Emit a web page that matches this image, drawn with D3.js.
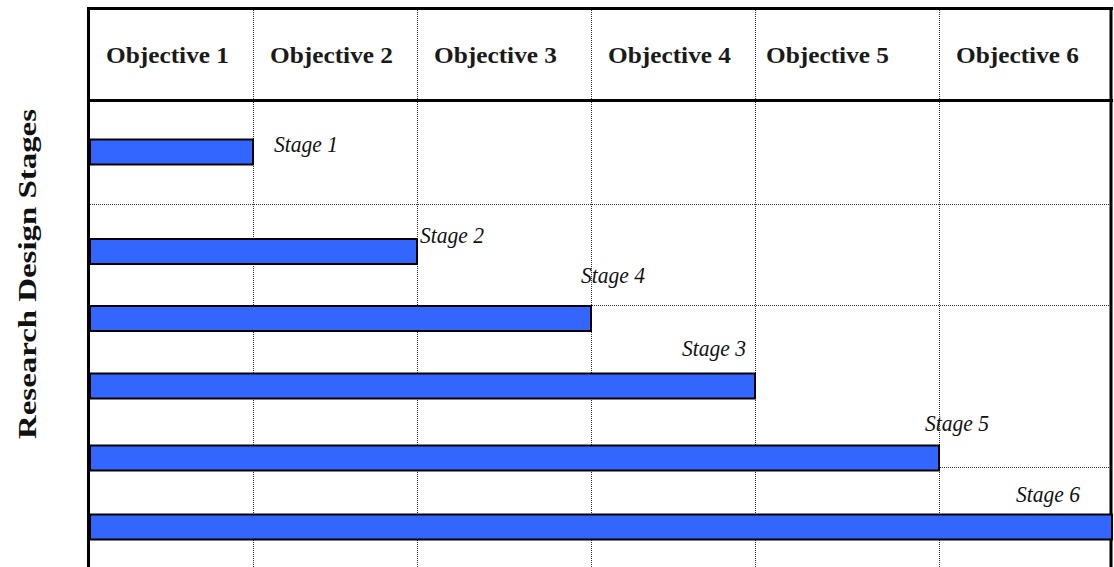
<!DOCTYPE html>
<html>
<head>
<meta charset="utf-8">
<script src="https://cdn.jsdelivr.net/npm/d3@7"></script>
<style>
  html, body { margin: 0; padding: 0; background: #fff; }
  svg { display: block; }
</style>
</head>
<body>
<svg width="1114" height="567"></svg>
<script>
(function() {
  'use strict';

// data
var objectives = ["Objective 1", "Objective 2", "Objective 3", "Objective 4", "Objective 5", "Objective 6"];
var stages = ["Stage 1", "Stage 2", "Stage 4", "Stage 3", "Stage 5", "Stage 6"];
var objectivesCovered = [1, 2, 3, 4, 5, 6];
var axisTitle = "Research Design Stages";

// layout (table drawn by hand in the original, so columns/rows are uneven)
var colEdges = [89, 253, 417, 591, 755, 939, 1112];
var rowCenters = [152, 251.5, 318.5, 386, 458, 527];
var rowLines = [204, 305, 467];
var labelDx = [21, 3, -10, -73, -14, -96];
var labelDy = [12, 4, -23, -18, -15, -13];
var barH = 25;

var svg = d3.select("svg");

var x = d3.scaleLinear().domain(d3.range(colEdges.length)).range(colEdges);
var y = d3.scaleLinear().domain(d3.range(stages.length)).range(rowCenters);

// dotted grid
svg.selectAll(".vgrid")
   .data(d3.range(1, objectives.length))
   .enter().append("line")
   .attr("class", "vgrid")
   .attr("x1", function(d) { return x(d) + 0.5; })
   .attr("x2", function(d) { return x(d) + 0.5; })
   .attr("y1", 10).attr("y2", 567)
   .attr("stroke", "#333").attr("stroke-width", 1)
   .attr("stroke-dasharray", "1,1");

svg.selectAll(".hgrid")
   .data(rowLines)
   .enter().append("line")
   .attr("class", "hgrid")
   .attr("x1", 90).attr("x2", 1110)
   .attr("y1", function(d) { return d + 0.5; })
   .attr("y2", function(d) { return d + 0.5; })
   .attr("stroke", "#333").attr("stroke-width", 1)
   .attr("stroke-dasharray", "1,1");

// header labels
svg.selectAll(".obj")
   .data(objectives)
   .enter().append("text")
   .attr("class", "obj")
   .attr("x", function(d, i) { return x(i) + (i === 4 ? 11 : 17); })
   .attr("y", 63)
   .attr("textLength", 123)
   .attr("lengthAdjust", "spacingAndGlyphs")
   .style("font-family", "'Liberation Serif', 'Times New Roman', serif")
   .style("font-weight", "bold")
   .style("font-size", "23px")
   .attr("fill", "#1a1a1a")
   .text(function(d) { return d; });

// bars
svg.selectAll(".bar")
   .data(objectivesCovered)
   .enter().append("rect")
   .attr("class", "bar")
   .attr("x", x(0) + 1)
   .attr("y", function(d, i) { return y(i) - barH / 2; })
   .attr("width", function(d) { return x(d) - x(0) - 1; })
   .attr("height", barH)
   .attr("fill", "#3366ff")
   .attr("stroke", "#000")
   .attr("stroke-width", 2);

// stage labels
svg.selectAll(".stage")
   .data(stages)
   .enter().append("text")
   .attr("class", "stage")
   .attr("x", function(d, i) { return x(objectivesCovered[i]) + labelDx[i]; })
   .attr("y", function(d, i) { return y(i) - barH / 2 + labelDy[i]; })
   .attr("textLength", 64)
   .attr("lengthAdjust", "spacingAndGlyphs")
   .style("font-family", "'Liberation Serif', 'Times New Roman', serif")
   .style("font-style", "italic")
   .style("font-size", "23px")
   .attr("fill", "#111")
   .text(function(d) { return d; });

// table frame
var frame = [
  [88.5, 7, 88.5, 567],
  [87, 8.5, 1113, 8.5],
  [1111, 7, 1111, 567],
  [87, 100.5, 1113, 100.5]
];
svg.selectAll(".frame")
   .data(frame)
   .enter().append("line")
   .attr("class", "frame")
   .attr("x1", function(d) { return d[0]; })
   .attr("y1", function(d) { return d[1]; })
   .attr("x2", function(d) { return d[2]; })
   .attr("y2", function(d) { return d[3]; })
   .attr("stroke", "#000").attr("stroke-width", 3);

// last bar runs over the right border
svg.select(".bar:last-of-type").raise();

// axis title
svg.append("text")
   .attr("transform", "translate(36,274) rotate(-90)")
   .attr("text-anchor", "middle")
   .attr("textLength", 330)
   .attr("lengthAdjust", "spacingAndGlyphs")
   .style("font-family", "'Liberation Serif', 'Times New Roman', serif")
   .style("font-weight", "bold")
   .style("font-size", "26px")
   .attr("fill", "#111")
   .text(axisTitle);

})();
</script>
</body>
</html>
